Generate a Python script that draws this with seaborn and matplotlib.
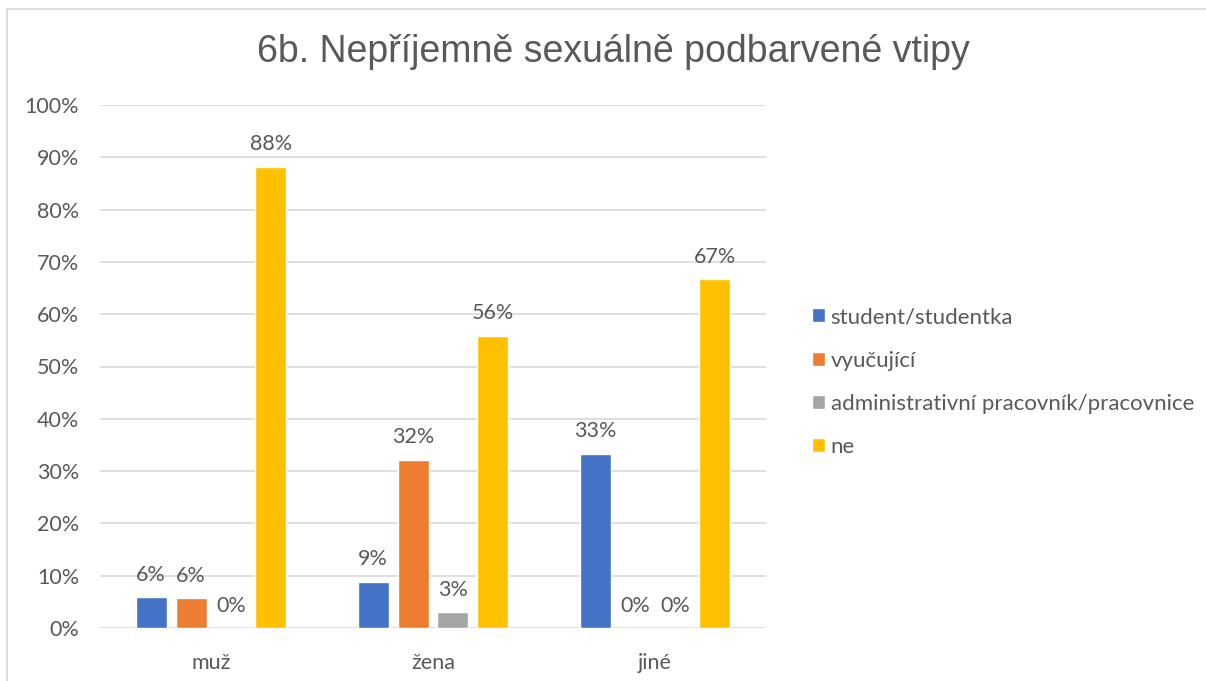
import matplotlib
matplotlib.use("Agg")
import matplotlib.pyplot as plt
import seaborn as sns
import pandas as pd
from matplotlib.patches import Rectangle
from matplotlib.ticker import FuncFormatter

categories = ["muž", "žena", "jiné"]
series = ["student/studentka", "vyučující", "administrativní pracovník/pracovnice", "ne"]
student = [5.9, 8.8, 33.3]
vyucujici = [5.7, 32.2, 0.0]
admin = [0.0, 3.0, 0.0]
ne = [88.2, 55.9, 66.7]
colors = ["#4472C4", "#ED7D31", "#A5A5A5", "#FFC000"]
yticks = list(range(0, 101, 10))

rows = []
for s, vals in zip(series, [student, vyucujici, admin, ne]):
    for c, v in zip(categories, vals):
        rows.append({"kategorie": c, "serie": s, "hodnota": v})
df = pd.DataFrame(rows)

sns.set_theme(style="white")
plt.rcParams["font.family"] = ["Lato", "DejaVu Sans"]
txt = "#595959"
fs = 15.5

fig = plt.figure(figsize=(12.06, 6.81), dpi=100)
ax = fig.add_axes([100/1206, 1-628/681, 666/1206, 523/681])

sns.barplot(data=df, x="kategorie", y="hodnota", hue="serie", order=categories,
            hue_order=series, palette=colors, width=0.72, gap=0.225, ax=ax,
            saturation=1, legend=True, errorbar=None)

ax.set_xlim(-0.5, 2.5)
ax.set_ylim(0, 100)
ax.set_yticks(yticks)
ax.yaxis.set_major_formatter(FuncFormatter(lambda v, p: f"{int(v)}%"))
ax.grid(axis="y", color="#D9D9D9", linewidth=1.2)
ax.set_axisbelow(True)
for sp in ax.spines.values():
    sp.set_visible(False)
ax.tick_params(axis="both", length=0, labelsize=fs, colors=txt)
ax.tick_params(axis="y", pad=15)
ax.tick_params(axis="x", pad=18)
ax.set_xlabel("")
ax.set_ylabel("")

for cont in ax.containers:
    ax.bar_label(cont, labels=[f"{round(b.get_height()):.0f}%" for b in cont],
                 padding=9, fontsize=fs, color=txt)

leg = ax.legend(loc="center left", bbox_to_anchor=(703/666, 0.47), frameon=False,
                fontsize=16, labelcolor=txt, handlelength=0.6, handleheight=0.6,
                handletextpad=0.25, labelspacing=1.05, borderaxespad=0)

fig.text(613/1206, 1-52/681, "6b. Nepříjemně sexuálně podbarvené vtipy",
         ha="center", va="center", fontsize=27, color=txt, family="Liberation Sans")

fig.patches.append(Rectangle((7/1206, -0.1), 1.2, 1 - 9/681 + 0.1, transform=fig.transFigure,
                             fill=False, edgecolor="#D9D9D9", linewidth=1.2))

fig.savefig("out.png", dpi=100)
